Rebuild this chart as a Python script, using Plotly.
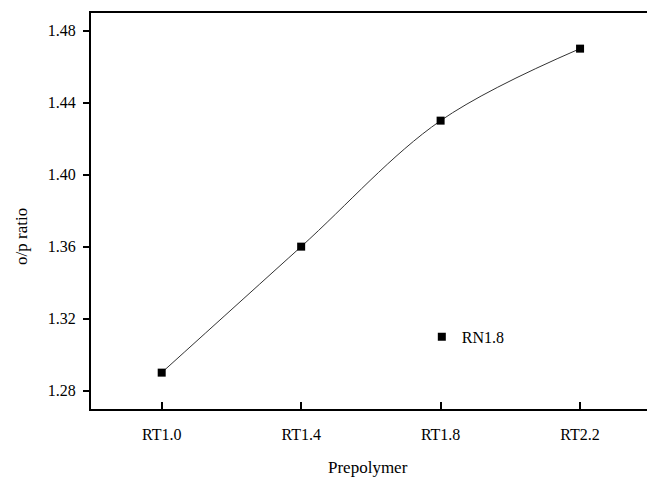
import plotly.graph_objects as go

categories = ["RT1.0", "RT1.4", "RT1.8", "RT2.2"]
ratio = [1.29, 1.36, 1.43, 1.47]
series_name = "RN1.8"
y_ticks = [1.28, 1.32, 1.36, 1.40, 1.44, 1.48]
y_tick_text = ["1.28", "1.32", "1.36", "1.40", "1.44", "1.48"]

FONT = "Liberation Serif"

fig = go.Figure()
fig.add_trace(go.Scatter(
    x=categories, y=ratio, mode="lines",
    line=dict(color="#333333", width=1, shape="spline", smoothing=1.0),
    showlegend=False, hoverinfo="skip"))
fig.add_trace(go.Scatter(
    x=categories, y=ratio, mode="markers", name=series_name,
    marker=dict(symbol="square", size=8, color="black")))

fig.update_layout(
    width=647, height=480,
    margin=dict(l=91, r=0, t=13, b=71),
    paper_bgcolor="white", plot_bgcolor="white",
    font=dict(family=FONT, size=16, color="black"),
    legend=dict(x=0.595, y=0.225, xanchor="left", yanchor="top",
                bgcolor="rgba(0,0,0,0)", font=dict(size=16, family=FONT)),
    xaxis=dict(
        type="category", range=[-0.507, 3.48],
        showgrid=False, zeroline=False,
        showline=True, linecolor="black", linewidth=2, mirror=True,
        ticks="inside", ticklen=7, tickwidth=2, tickcolor="black",
        ticklabelstandoff=10,
        tickfont=dict(family=FONT, size=16)),
    yaxis=dict(
        range=[1.2698, 1.4898],
        tickvals=y_ticks, ticktext=y_tick_text,
        showgrid=False, zeroline=False,
        showline=True, linecolor="black", linewidth=2, mirror=False,
        ticks="outside", ticklen=6, tickwidth=2, tickcolor="black",
        ticklabelstandoff=4,
        tickfont=dict(family=FONT, size=16)),
    annotations=[
        dict(text="Prepolymer", xref="paper", yref="paper",
             x=(368 - 91) / 556, y=(409 - 467) / 396,
             xanchor="center", yanchor="middle", showarrow=False,
             font=dict(family=FONT, size=17)),
        dict(text="o/p ratio", xref="paper", yref="paper",
             x=(21 - 91) / 556, y=(409 - 237) / 396,
             xanchor="center", yanchor="middle", showarrow=False,
             textangle=-90, font=dict(family=FONT, size=17)),
    ],
)

fig.write_html("out.html")
